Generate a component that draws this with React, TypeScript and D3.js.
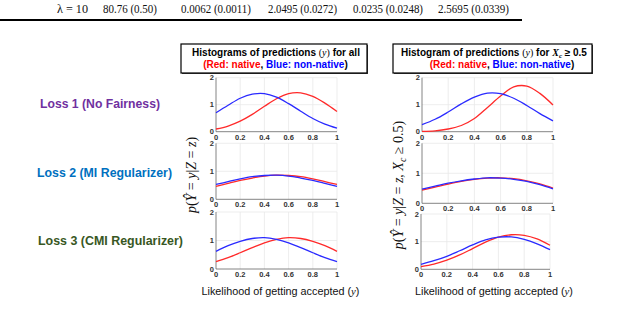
import React from "react";
import * as d3 from "d3";

// ---- data ----
const yGrid = [0, 0.1, 0.2, 0.3, 0.4, 0.5, 0.6, 0.7, 0.8, 0.9, 1.0];

const redLoss1All = [0.10, 0.21, 0.39, 0.64, 0.94, 1.22, 1.41, 1.44, 1.31, 1.06, 0.75];
const blueLoss1All = [0.70, 0.98, 1.24, 1.39, 1.41, 1.28, 1.04, 0.76, 0.49, 0.28, 0.13];
const redLoss2All = [0.46, 0.57, 0.675, 0.76, 0.83, 0.86, 0.85, 0.81, 0.73, 0.63, 0.53];
const blueLoss2All = [0.53, 0.63, 0.73, 0.81, 0.85, 0.86, 0.83, 0.76, 0.675, 0.57, 0.46];
const redLoss3All = [0.26, 0.40, 0.57, 0.75, 0.92, 1.04, 1.10, 1.07, 0.97, 0.82, 0.62];
const blueLoss3All = [0.62, 0.82, 0.97, 1.07, 1.10, 1.04, 0.92, 0.75, 0.57, 0.40, 0.26];

const redLoss1Xc = [0.01, 0.03, 0.10, 0.23, 0.49, 0.90, 1.32, 1.66, 1.69, 1.42, 0.99];
const blueLoss1Xc = [0.26, 0.46, 0.73, 1.03, 1.28, 1.43, 1.41, 1.24, 0.97, 0.67, 0.40];
const redLoss2Xc = [0.44, 0.54, 0.64, 0.73, 0.80, 0.84, 0.85, 0.82, 0.75, 0.65, 0.51];
const blueLoss2Xc = [0.47, 0.57, 0.67, 0.75, 0.81, 0.85, 0.84, 0.80, 0.73, 0.62, 0.48];
const redLoss3Xc = [0.10, 0.19, 0.33, 0.52, 0.75, 0.98, 1.16, 1.25, 1.23, 1.10, 0.87];
const blueLoss3Xc = [0.18, 0.31, 0.47, 0.67, 0.88, 1.06, 1.16, 1.17, 1.08, 0.92, 0.71];

const xTicks = [0, 0.2, 0.4, 0.6, 0.8, 1];
const xTickLabels = ["0", "0.2", "0.4", "0.6", "0.8", "1"];
const yTicks = [0, 1, 2];
const yTickLabels = ["0", "1", "2"];

const lossLabels = ["Loss 1 (No Fairness)", "Loss 2 (MI Regularizer)", "Loss 3 (CMI Regularizer)"];
const tableRow = ["λ = 10", "80.76 (0.50)", "0.0062 (0.0011)", "2.0495 (0.0272)", "0.0235 (0.0248)", "2.5695 (0.0339)"];

// ---- layout ----
const RED = "#ff2a2a";
const BLUE = "#2a2aff";
const lossColors = ["#7030A0", "#0070C0", "#385723"];
const lossPos = [{ x: 40, y: 108 }, { x: 37, y: 177 }, { x: 38, y: 245 }];
const lossW = [120, 135, 145];
const tableX = [57, 103, 181, 268, 353, 438];
const tableW = [31, 54, 70, 69, 70, 71];

const panels = [
  { x0: 216, x1: 337, y0: 77.7, y1: 131.7, red: redLoss1All, blue: blueLoss1All },
  { x0: 216, x1: 337, y0: 143.3, y1: 199.3, red: redLoss2All, blue: blueLoss2All },
  { x0: 216, x1: 337, y0: 212, y1: 269, red: redLoss3All, blue: blueLoss3All },
  { x0: 422, x1: 553, y0: 77.7, y1: 131.7, red: redLoss1Xc, blue: blueLoss1Xc },
  { x0: 422, x1: 553, y0: 143.3, y1: 203.3, red: redLoss2Xc, blue: blueLoss2Xc },
  { x0: 421, x1: 550, y0: 214, y1: 269.3, red: redLoss3Xc, blue: blueLoss3Xc },
];

const SANS = "Liberation Sans, Arial, sans-serif";
const SERIF = "Liberation Serif, Times New Roman, serif";

function Panel({ p }: { p: any }) {
  const x = d3.scaleLinear().domain([0, 1]).range([p.x0, p.x1]);
  const y = d3.scaleLinear().domain([0, 2]).range([p.y1, p.y0]);
  const line = d3
    .line<number>()
    .x((_, i) => x(yGrid[i]))
    .y((v) => y(v))
    .curve(d3.curveCatmullRom.alpha(0.5));
  return (
    <g>
      {xTicks.slice(1).map((t) => (
        <line key={"gx" + t} x1={x(t)} x2={x(t)} y1={y(0)} y2={y(2)} stroke="#e8e8e8" strokeWidth={0.8} />
      ))}
      {yTicks.slice(1).map((t) => (
        <line key={"gy" + t} x1={x(0)} x2={x(1)} y1={y(t)} y2={y(t)} stroke="#e8e8e8" strokeWidth={0.8} />
      ))}
      <line x1={x(0)} x2={x(0)} y1={y(0)} y2={y(2)} stroke="#666" strokeWidth={0.8} />
      <line x1={x(0)} x2={x(1)} y1={y(0)} y2={y(0)} stroke="#666" strokeWidth={0.8} />
      {xTicks.map((t, i) => (
        <text key={"xt" + t} x={x(t)} y={y(0) + 8} fontFamily={SANS} fontSize={7.5} fontWeight="bold" fill="#333" textAnchor="middle">
          {xTickLabels[i]}
        </text>
      ))}
      {yTicks.map((t, i) => (
        <text key={"yt" + t} x={x(0) - 2} y={y(t) + 2.5} fontFamily={SANS} fontSize={7.5} fontWeight="bold" fill="#333" textAnchor="end">
          {yTickLabels[i]}
        </text>
      ))}
      <path d={line(p.red) || ""} fill="none" stroke={RED} strokeWidth={1.3} />
      <path d={line(p.blue) || ""} fill="none" stroke={BLUE} strokeWidth={1.3} />
    </g>
  );
}

function TitleBox({ x, y, w, h, children }: any) {
  return (
    <g>
      <rect x={x + 1} y={y + 1} width={w} height={h} fill="#444" />
      <rect x={x} y={y} width={w} height={h} fill="#fff" stroke="#000" strokeWidth={1.2} />
      {children}
    </g>
  );
}

export default function App() {
  return (
    <svg width={640} height={316} style={{ position: "absolute", left: 0, top: 0, background: "#fff" }}>
      {/* table fragment */}
      {tableRow.map((t, i) => (
        <text key={t} x={tableX[i]} y={12.5} fontFamily={SERIF} fontSize={12.5} fill="#111" textLength={tableW[i]} lengthAdjust="spacingAndGlyphs">
          {t}
        </text>
      ))}
      <line x1={0} x2={522} y1={20} y2={20} stroke="#000" strokeWidth={2} />

      {/* title boxes */}
      <TitleBox x={181} y={44} w={186} h={29}>
        <text x={276} y={56} textAnchor="middle" fontFamily={SANS} fontSize={10} fontWeight="bold">
          Histograms of predictions <tspan fontFamily={SERIF} fontWeight="normal">(</tspan>
          <tspan fontFamily={SERIF} fontStyle="italic" fontWeight="normal">y</tspan>
          <tspan fontFamily={SERIF} fontWeight="normal">)</tspan> for all
        </text>
        <text x={275.5} y={68} textAnchor="middle" fontFamily={SANS} fontSize={10} fontWeight="bold">
          <tspan fill="#ff0000">(Red: native</tspan>, <tspan fill="#0000ff">Blue: non-native</tspan>)
        </text>
      </TitleBox>
      <TitleBox x={393} y={44} w={199} h={29}>
        <text x={494} y={56} textAnchor="middle" fontFamily={SANS} fontSize={10} fontWeight="bold">
          Histogram of predictions <tspan fontFamily={SERIF} fontWeight="normal">(</tspan>
          <tspan fontFamily={SERIF} fontStyle="italic" fontWeight="normal">y</tspan>
          <tspan fontFamily={SERIF} fontWeight="normal">)</tspan> for{" "}
          <tspan fontFamily={SERIF} fontStyle="italic">X</tspan>
          <tspan fontFamily={SERIF} fontStyle="italic" fontSize={7} dy={2}>c</tspan>
          <tspan dy={-2}> ≥ 0.5</tspan>
        </text>
        <text x={502} y={68} textAnchor="middle" fontFamily={SANS} fontSize={10} fontWeight="bold">
          <tspan fill="#ff0000">(Red: native</tspan>, <tspan fill="#0000ff">Blue: non-native</tspan>)
        </text>
      </TitleBox>

      {/* loss labels */}
      {lossLabels.map((l, i) => (
        <text key={l} x={lossPos[i].x} y={lossPos[i].y} fontFamily={SANS} fontSize={12.2} fontWeight="bold" fill={lossColors[i]} textLength={lossW[i]} lengthAdjust="spacingAndGlyphs">
          {l}
        </text>
      ))}

      {/* y labels */}
      <text transform="translate(196,175) rotate(-90)" textAnchor="middle" fontFamily={SERIF} fontSize={14} fill="#111">
        <tspan fontStyle="italic">p</tspan>(<tspan fontStyle="italic">Ŷ</tspan> = <tspan fontStyle="italic">y</tspan>|<tspan fontStyle="italic">Z</tspan> = <tspan fontStyle="italic">z</tspan>)
      </text>
      <text transform="translate(403,185) rotate(-90)" textAnchor="middle" fontFamily={SERIF} fontSize={14} fill="#111">
        <tspan fontStyle="italic">p</tspan>(<tspan fontStyle="italic">Ŷ</tspan> = <tspan fontStyle="italic">y</tspan>|<tspan fontStyle="italic">Z</tspan> = <tspan fontStyle="italic">z</tspan>, <tspan fontStyle="italic">X</tspan>
        <tspan fontStyle="italic" fontSize={10} dy={3}>c</tspan>
        <tspan dy={-3}> ≥ 0.5)</tspan>
      </text>

      {panels.map((p, i) => (
        <Panel key={i} p={p} />
      ))}

      {/* x labels */}
      <text x={280.5} y={295} textAnchor="middle" fontFamily={SANS} fontSize={10.8} fill="#111">
        Likelihood of getting accepted (<tspan fontFamily={SERIF} fontStyle="italic">y</tspan>)
      </text>
      <text x={494} y={295} textAnchor="middle" fontFamily={SANS} fontSize={10.8} fill="#111">
        Likelihood of getting accepted (<tspan fontFamily={SERIF} fontStyle="italic">y</tspan>)
      </text>
    </svg>
  );
}
